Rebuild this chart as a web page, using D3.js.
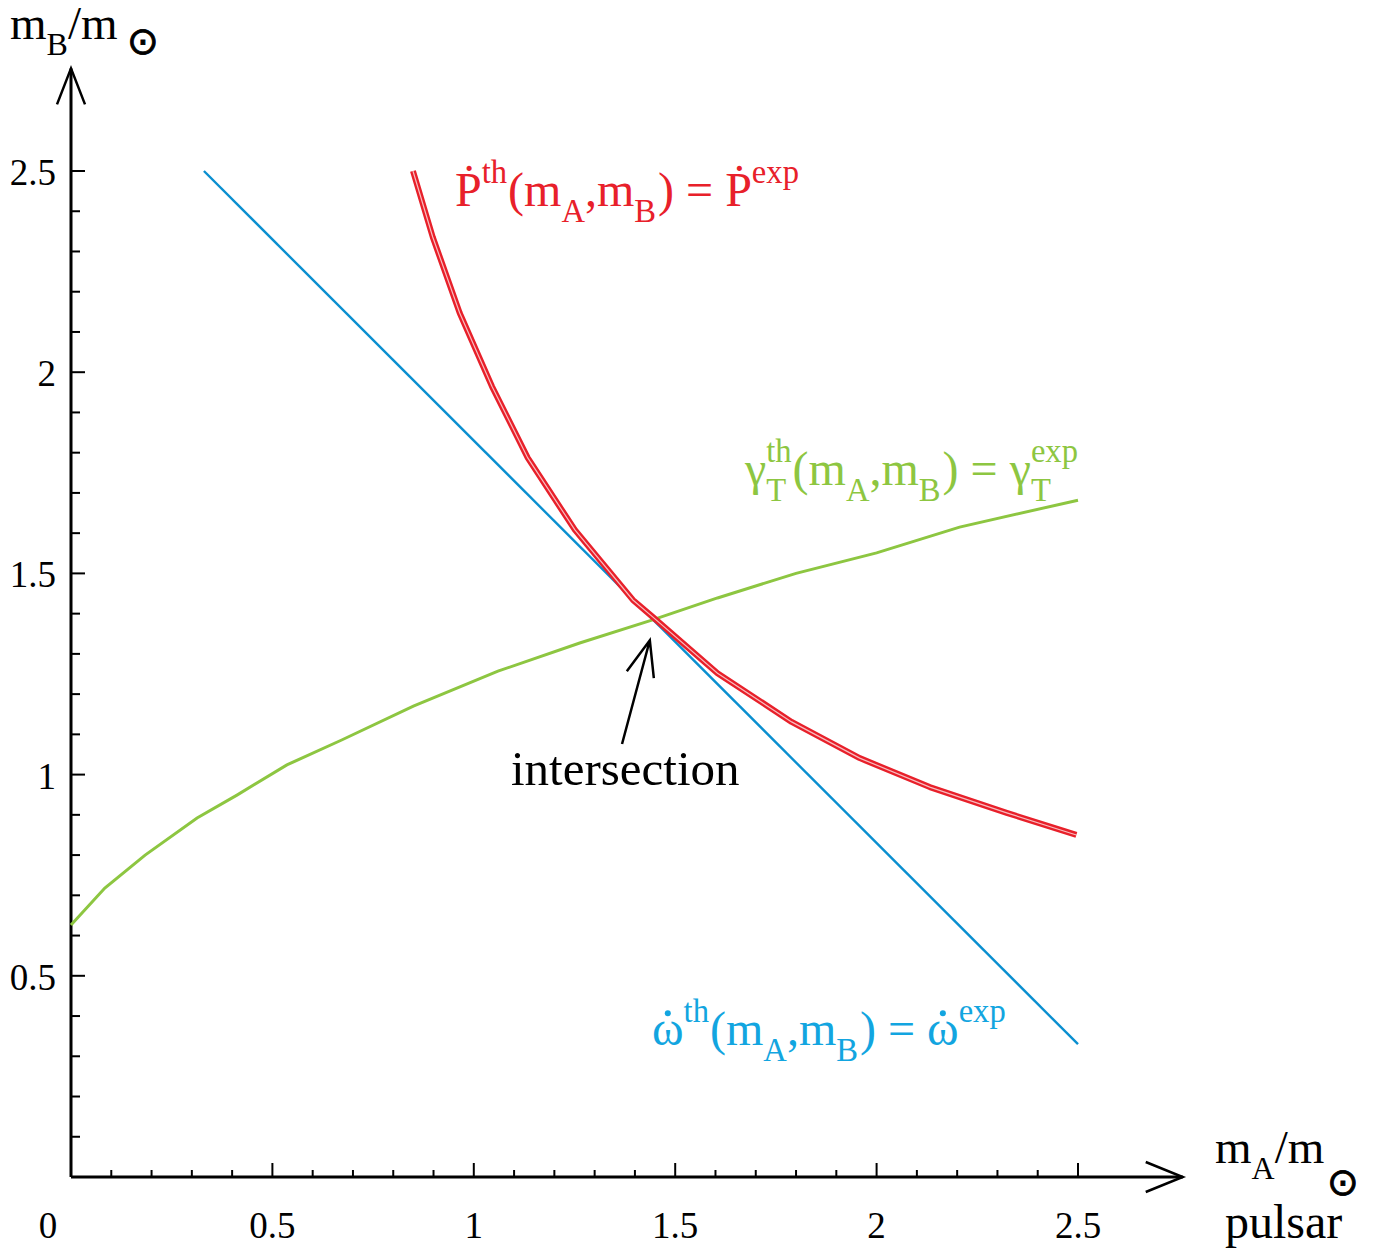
<!DOCTYPE html>
<meta charset="utf-8">
<style>
body { margin: 0; background: #fff; }
text { font-family: "Liberation Serif", "Times New Roman", serif; }
</style>
<body>
<div id="chart"></div>
<script src="https://cdn.jsdelivr.net/npm/d3@7"></script>
<script>

// curves, in solar masses (mA, mB)
var omegaDot = [[0.33, 2.50], [2.50, 0.33]];
var pDot = [[0.849, 2.500], [0.898, 2.336], [0.965, 2.147], [1.045, 1.965], [1.134, 1.787],
            [1.251, 1.608], [1.395, 1.434], [1.444, 1.392], [1.605, 1.252], [1.789, 1.131],
            [1.958, 1.041], [2.132, 0.969], [2.323, 0.905], [2.496, 0.850]];
var gammaT = [[0.000, 0.626], [0.084, 0.718], [0.184, 0.800], [0.313, 0.892], [0.412, 0.949],
              [0.536, 1.024], [0.672, 1.086], [0.850, 1.170], [1.060, 1.257], [1.263, 1.327],
              [1.442, 1.384], [1.605, 1.439], [1.800, 1.500], [2.000, 1.551], [2.206, 1.615],
              [2.500, 1.682]];
var xTicks = [0, 0.5, 1, 1.5, 2, 2.5],
    xTickLabels = ["0", "0.5", "1", "1.5", "2", "2.5"];
var yTicks = [0.5, 1, 1.5, 2, 2.5],
    yTickLabels = ["0.5", "1", "1.5", "2", "2.5"];
var minorTicks = d3.range(1, 26).map(function(i) { return i / 10; });
var arrowTail = [1.368, 1.076], arrowTip = [1.437, 1.334];

var width = 1379, height = 1249;
var red = "#e8202a", green = "#8dc641", blue = "#0a8fd0", blueText = "#12a5e0";

var svg = d3.select("#chart").append("svg")
    .attr("width", width)
    .attr("height", height);

var x = d3.scaleLinear().domain([0, 2.5]).range([71, 1078]);
var y = d3.scaleLinear().domain([0, 2.5]).range([1177, 171]);

var line = d3.line()
    .x(function(d) { return x(d[0]); })
    .y(function(d) { return y(d[1]); });

// axes with open arrow heads
var axes = svg.append("g").attr("stroke", "#000").attr("fill", "none");
axes.append("path").attr("stroke-width", 3)
    .attr("d", "M" + x(0) + "," + y(0) + "H" + x(2.76) + "M" + x(0) + "," + y(0) + "V" + y(2.755));
axes.append("path").attr("stroke-width", 2.5)
    .attr("d", "M" + (x(2.76) - 37) + "," + (y(0) - 15) + "L" + x(2.76) + "," + y(0) + "L" + (x(2.76) - 37) + "," + (y(0) + 15));
axes.append("path").attr("stroke-width", 2.5)
    .attr("d", "M" + (x(0) - 14) + "," + (y(2.755) + 36) + "L" + x(0) + "," + y(2.755) + "L" + (x(0) + 14) + "," + (y(2.755) + 36));

// ticks
function isMajor(v) { return Math.abs(v * 2 - Math.round(v * 2)) < 1e-6; }
axes.selectAll(".xt").data(minorTicks).enter().append("line")
    .attr("stroke-width", 2)
    .attr("x1", function(d) { return x(d); })
    .attr("x2", function(d) { return x(d); })
    .attr("y1", y(0))
    .attr("y2", function(d) { return y(0) - (isMajor(d) ? 14 : 7); });
axes.selectAll(".yt").data(minorTicks).enter().append("line")
    .attr("stroke-width", 2)
    .attr("y1", function(d) { return y(d); })
    .attr("y2", function(d) { return y(d); })
    .attr("x1", x(0))
    .attr("x2", function(d) { return x(0) + (isMajor(d) ? 14 : 9); });

svg.selectAll(".xl").data(xTicks).enter().append("text")
    .attr("x", function(d) { return d === 0 ? x(0) - 23 : x(d); })
    .attr("y", 1238)
    .attr("text-anchor", "middle")
    .style("font-size", "37px")
    .text(function(d, i) { return xTickLabels[i]; });
svg.selectAll(".yl").data(yTicks).enter().append("text")
    .attr("x", 56)
    .attr("y", function(d) { return y(d) + 14; })
    .attr("text-anchor", "end")
    .style("font-size", "37px")
    .text(function(d, i) { return yTickLabels[i]; });

// curves
svg.append("path").datum(omegaDot).attr("d", line)
    .attr("fill", "none").attr("stroke", blue).attr("stroke-width", 2.4);
svg.append("path").datum(gammaT).attr("d", line)
    .attr("fill", "none").attr("stroke", green).attr("stroke-width", 3);
svg.append("path").datum(pDot).attr("d", line)
    .attr("fill", "none").attr("stroke", red).attr("stroke-width", 6).attr("stroke-linejoin", "round");
svg.append("path").datum(pDot).attr("d", line)
    .attr("fill", "none").attr("stroke", "#fff").attr("stroke-width", 1.2).attr("stroke-opacity", 0.7);

// intersection arrow
var tx = x(arrowTip[0]), ty = y(arrowTip[1]);
svg.append("path")
    .attr("fill", "none").attr("stroke", "#000").attr("stroke-width", 2.5)
    .attr("d", "M" + x(arrowTail[0]) + "," + y(arrowTail[1]) + "L" + tx + "," + ty +
               "M" + (tx - 23) + "," + (ty + 31) + "L" + tx + "," + ty + "L" + (tx + 4) + "," + (ty + 38));
svg.append("text").attr("x", 511).attr("y", 785)
    .style("font-size", "49px").text("intersection");

// text made of runs: main / sup / sub, "hold" stacks the next run under it,
// "dot" puts a dot accent over the glyph
function rich(x0, y0, runs, color, size) {
  var g = svg.append("g").attr("fill", color);
  var cx = x0, held = null;
  runs.forEach(function(r) {
    var fs = r.fs || (r.k === "main" ? size : size * 0.68);
    var dy = r.k === "sup" ? -size * 0.48 : r.k === "sub" ? size * 0.34 : 0;
    var startX = r.x != null ? r.x : held ? held.x : cx + (r.dx || 0);
    var t = g.append("text").attr("x", startX).attr("y", y0 + dy + (r.dy || 0))
        .style("font-size", fs + "px").text(r.t);
    if (r.font) t.style("font-family", r.font).attr("stroke", color).attr("stroke-width", 0.9);
    var w = t.node().getComputedTextLength();
    if (r.dot) {
      g.append("circle").attr("cx", startX + w / 2).attr("cy", y0 - size * 0.66).attr("r", 3);
    }
    if (r.hold) { held = { x: startX, w: w }; return; }
    if (held) { cx = startX + Math.max(w, held.w); held = null; }
    else cx = startX + w;
    cx += (r.after || 0);
  });
  return g;
}

rich(455, 206, [
  { t: "\u1E56", k: "main" }, { t: "th", k: "sup" }, { t: "(", k: "main", dx: 1 },
  { t: "m", k: "main" }, { t: "A", k: "sub" }, { t: ",", k: "main" }, { t: "m", k: "main" },
  { t: "B", k: "sub" }, { t: ")", k: "main", dx: 2 }, { t: "=", k: "main", dx: 12 },
  { t: "\u1E56", k: "main", dx: 12 }, { t: "exp", k: "sup" }
], red, 48);

rich(745, 485, [
  { t: "\u03B3", k: "main" }, { t: "th", k: "sup", hold: true }, { t: "T", k: "sub" },
  { t: "(", k: "main", dx: 1 }, { t: "m", k: "main" }, { t: "A", k: "sub" }, { t: ",", k: "main" },
  { t: "m", k: "main" }, { t: "B", k: "sub" }, { t: ")", k: "main", dx: 2 },
  { t: "=", k: "main", dx: 12 }, { t: "\u03B3", k: "main", dx: 12 },
  { t: "exp", k: "sup", hold: true }, { t: "T", k: "sub" }
], green, 48);

rich(652, 1045, [
  { t: "\u03C9", k: "main", dot: true }, { t: "th", k: "sup" }, { t: "(", k: "main", dx: 1 },
  { t: "m", k: "main" }, { t: "A", k: "sub" }, { t: ",", k: "main" }, { t: "m", k: "main" },
  { t: "B", k: "sub" }, { t: ")", k: "main", dx: 2 }, { t: "=", k: "main", dx: 12 },
  { t: "\u03C9", k: "main", dx: 12, dot: true }, { t: "exp", k: "sup" }
], blueText, 48);

// axis titles, the solar symbol set in DejaVu Sans
rich(10, 39, [
  { t: "m", k: "main" }, { t: "B", k: "sub" }, { t: "/m", k: "main" },
  { t: "\u2299", k: "main", x: 127, dy: 15, fs: 38, font: "DejaVu Sans" }
], "#000", 47);
rich(1215, 1163, [
  { t: "m", k: "main" }, { t: "A", k: "sub" }, { t: "/m", k: "main" },
  { t: "\u2299", k: "main", x: 1327, dy: 32, fs: 38, font: "DejaVu Sans" }
], "#000", 47);
svg.append("text").attr("x", 1225).attr("y", 1238)
    .style("font-size", "48px").text("pulsar");

</script>
</body>
